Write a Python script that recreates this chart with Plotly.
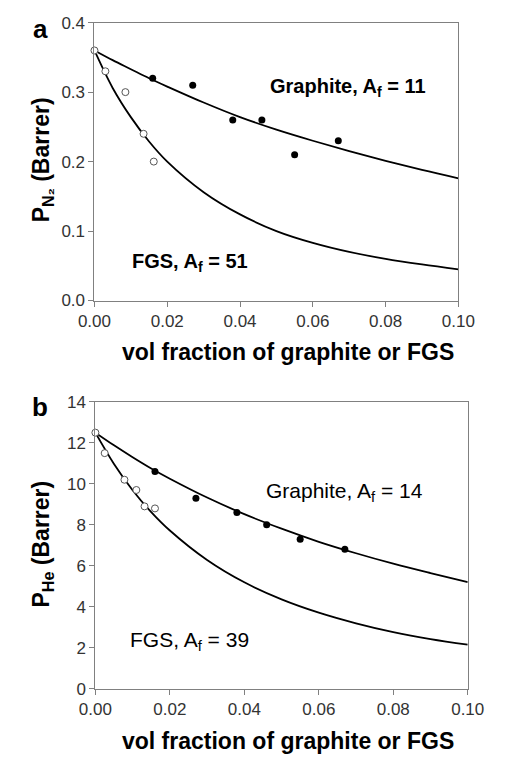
import plotly.graph_objects as go

W, H = 509, 761

# ---------- data ----------
# Panel a: N2 permeability
a_graphite_x = [0.016, 0.027, 0.038, 0.046, 0.055, 0.067]
a_graphite_y = [0.32, 0.31, 0.26, 0.26, 0.21, 0.23]
a_fgs_x = [0.0, 0.003, 0.0085, 0.0135, 0.0163]
a_fgs_y = [0.36, 0.33, 0.30, 0.24, 0.20]

curve_x = [0.0, 0.005, 0.01, 0.015, 0.02, 0.03, 0.04, 0.05, 0.06, 0.07, 0.08, 0.09, 0.10]
a_graphite_fit = [0.360, 0.346, 0.333, 0.320, 0.308, 0.285, 0.264, 0.246, 0.230, 0.215, 0.201, 0.188, 0.176]
a_fgs_fit = [0.360, 0.306, 0.264, 0.229, 0.200, 0.156, 0.124, 0.100, 0.083, 0.070, 0.060, 0.052, 0.045]

# Panel b: He permeability
b_graphite_x = [0.016, 0.027, 0.038, 0.046, 0.055, 0.067]
b_graphite_y = [10.6, 9.3, 8.6, 8.0, 7.3, 6.8]
b_fgs_x = [0.0, 0.0025, 0.0078, 0.011, 0.0132, 0.016]
b_fgs_y = [12.5, 11.5, 10.2, 9.7, 8.9, 8.8]

b_graphite_fit = [12.5, 11.88, 11.30, 10.75, 10.25, 9.33, 8.52, 7.81, 7.17, 6.61, 6.10, 5.64, 5.20]
b_fgs_fit = [12.5, 10.97, 9.69, 8.62, 7.72, 6.28, 5.19, 4.36, 3.71, 3.19, 2.76, 2.42, 2.15]

x_ticks = [0.0, 0.02, 0.04, 0.06, 0.08, 0.10]
x_title = "vol fraction of graphite or FGS"

FONT = "Liberation Sans, Arial, sans-serif"

def px(x):
    return x / W

def py(y):
    return 1 - y / H

fig = go.Figure()

def add_panel(xa, ya, fit_g, fit_f, gx, gy, fx, fy):
    fig.add_trace(go.Scatter(x=curve_x, y=fit_g, mode="lines", line=dict(color="black", width=1.8, shape="spline"),
                             xaxis=xa, yaxis=ya, showlegend=False, cliponaxis=False))
    fig.add_trace(go.Scatter(x=curve_x, y=fit_f, mode="lines", line=dict(color="black", width=1.8, shape="spline"),
                             xaxis=xa, yaxis=ya, showlegend=False, cliponaxis=False))
    fig.add_trace(go.Scatter(x=gx, y=gy, mode="markers", marker=dict(color="black", size=7, symbol="circle"),
                             xaxis=xa, yaxis=ya, showlegend=False, cliponaxis=False))
    fig.add_trace(go.Scatter(x=fx, y=fy, mode="markers",
                             marker=dict(color="white", size=7, symbol="circle", line=dict(color="#555555", width=1)),
                             xaxis=xa, yaxis=ya, showlegend=False, cliponaxis=False))

add_panel("x", "y", a_graphite_fit, a_fgs_fit, a_graphite_x, a_graphite_y, a_fgs_x, a_fgs_y)
add_panel("x2", "y2", b_graphite_fit, b_fgs_fit, b_graphite_x, b_graphite_y, b_fgs_x, b_fgs_y)

axis_common = dict(showline=True, linecolor="#808080", linewidth=1, mirror=True, ticks="outside",
                   tickcolor="#808080", ticklen=5, tickwidth=1, showgrid=False, zeroline=False,
                   tickfont=dict(family=FONT, size=17, color="#333333"))

fig.update_layout(
    width=W, height=H, margin=dict(l=0, r=0, t=0, b=0),
    plot_bgcolor="white", paper_bgcolor="white",
    xaxis=dict(domain=[px(83), px(473)], range=[0, 0.1], tickvals=x_ticks, tickformat=".2f",
               anchor="y", **axis_common),
    yaxis=dict(domain=[py(299), py(14)], range=[0, 0.4], dtick=0.1, tickformat=".1f",
               anchor="x", **axis_common),
    xaxis2=dict(domain=[px(84), px(483)], range=[0, 0.1], tickvals=x_ticks, tickformat=".2f",
                anchor="y2", **axis_common),
    yaxis2=dict(domain=[py(697), py(403)], range=[0, 14], dtick=2, tickformat="d",
                anchor="x2", **axis_common),
)

ann = []
def text(x, y, s, size, bold=True, xanchor="center", yanchor="middle", angle=0):
    ann.append(dict(x=px(x), y=py(y), xref="paper", yref="paper", text=(f"<b>{s}</b>" if bold else s),
                    showarrow=False, xanchor=xanchor, yanchor=yanchor, textangle=angle,
                    font=dict(family=FONT, size=size, color="black")))

text(25, 20, "a", 26)
text(25, 408, "b", 26)
text(290, 352, x_title, 23)
text(290, 751, x_title, 23)
text(27, 155, "P<sub>N₂</sub> (Barrer)", 23, angle=-90)
text(27, 549, "P<sub>He</sub> (Barrer)", 23, angle=-90)
text(355, 80, "Graphite, A<sub>f</sub> = 11", 20)
text(185, 260, "FGS, A<sub>f</sub> = 51", 20)
text(351, 495, "Graphite, A<sub>f</sub> = 14", 21, bold=False)
text(185, 648, "FGS, A<sub>f</sub> = 39", 21, bold=False)

fig.update_layout(annotations=ann)
fig.write_html("out.html")
